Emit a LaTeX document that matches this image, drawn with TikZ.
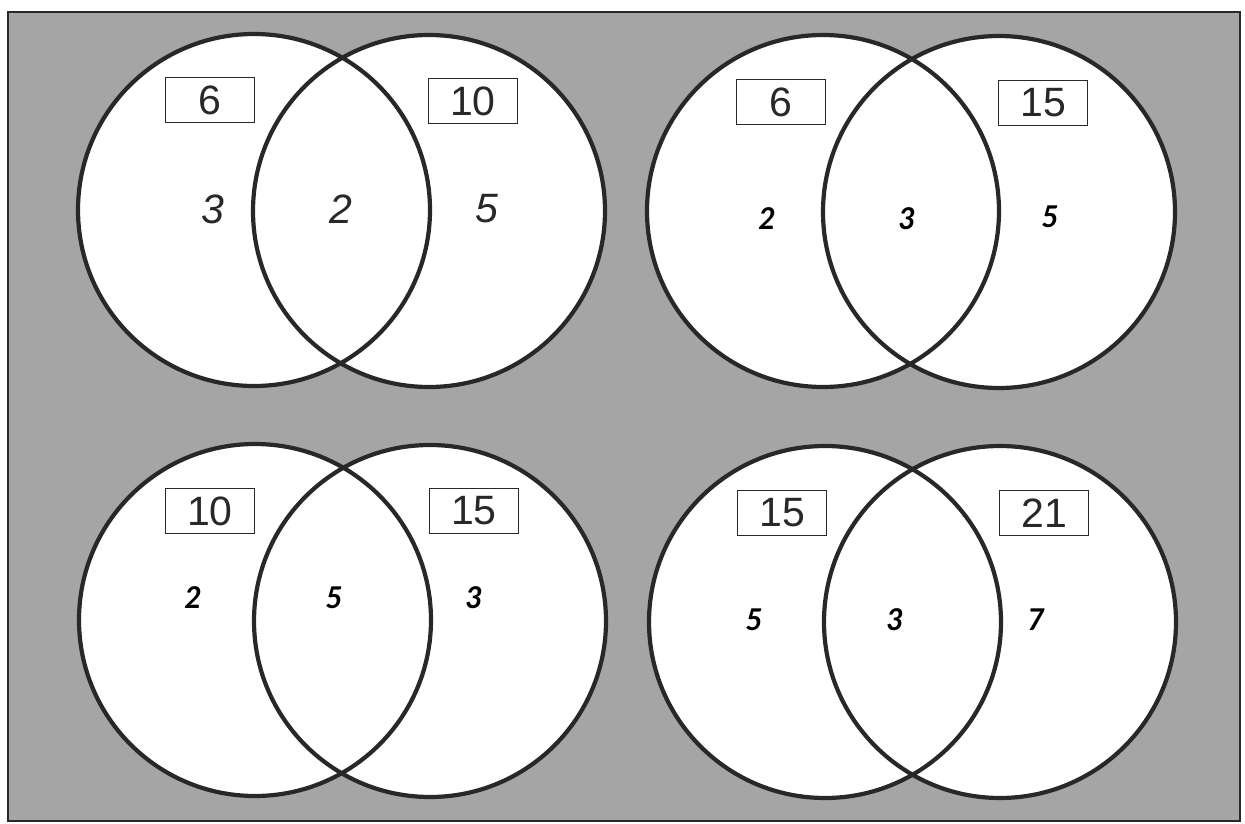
\documentclass[tikz,border=0pt]{standalone}
\usepackage{fontspec}
\setmainfont{Liberation Sans}
\newfontfamily\handfont{Lato}
\definecolor{bggray}{RGB}{165,165,165}
\definecolor{ink}{RGB}{40,40,40}
\begin{document}
\begin{tikzpicture}[x=1pt,y=-1pt,
  setcirc/.style={circle,minimum size=352pt,inner sep=0pt,draw=ink,line width=4.2pt},
  valbox/.style={draw=ink,line width=1.8pt,fill=white,minimum width=89pt,minimum height=45pt,inner sep=0pt,font=\fontsize{41}{41}\selectfont,text=ink},
  typed/.style={font=\fontsize{41}{41}\selectfont\itshape,text=ink},
  hand/.style={font=\handfont\fontsize{30}{30}\selectfont\bfseries\itshape,text=black}]
\useasboundingbox (0,0) rectangle (1245,824);
\fill[white] (0,0) rectangle (1245,824);
\draw[fill=bggray,draw=ink,line width=2.5pt] (8,12) rectangle (1240,821);
% fills
\foreach \cx/\cy in {254/210,429/211,823/211,999/212,255/620,430/621,825/622,1000/622}
  \fill[white] (\cx,\cy) circle (176);
% top-left
\node[setcirc] (a1) at (254,210) {};
\node[setcirc] (a2) at (429,211) {};
\node[valbox] (ab1) at (210,100) {6};
\node[valbox] (ab2) at (473,101) {10};
\node[typed] (al) at (213,209) {3};
\node[typed] (am) at (341,209) {2};
\node[typed] (ar) at (487,209) {5};
% top-right
\node[setcirc] (b1) at (823,211) {};
\node[setcirc] (b2) at (999,212) {};
\node[valbox] (bb1) at (781,102) {6};
\node[valbox] (bb2) at (1043,103) {15};
\node[hand] (bl) at (767,219) {2};
\node[hand] (bm) at (907,219) {3};
\node[hand] (br) at (1050,217) {5};
% bottom-left
\node[setcirc] (c1) at (255,620) {};
\node[setcirc] (c2) at (430,621) {};
\node[valbox] (cb1) at (210,511) {10};
\node[valbox] (cb2) at (474,511) {15};
\node[hand] (cl) at (193,598) {2};
\node[hand] (cm) at (334,598) {5};
\node[hand] (cr) at (474,598) {3};
% bottom-right
\node[setcirc] (d1) at (825,622) {};
\node[setcirc] (d2) at (1000,622) {};
\node[valbox] (db1) at (782,513) {15};
\node[valbox] (db2) at (1044,513) {21};
\node[hand] (dl) at (754,620) {5};
\node[hand] (dm) at (895,620) {3};
\node[hand] (dr) at (1036,620) {7};
\end{tikzpicture}
\end{document}
